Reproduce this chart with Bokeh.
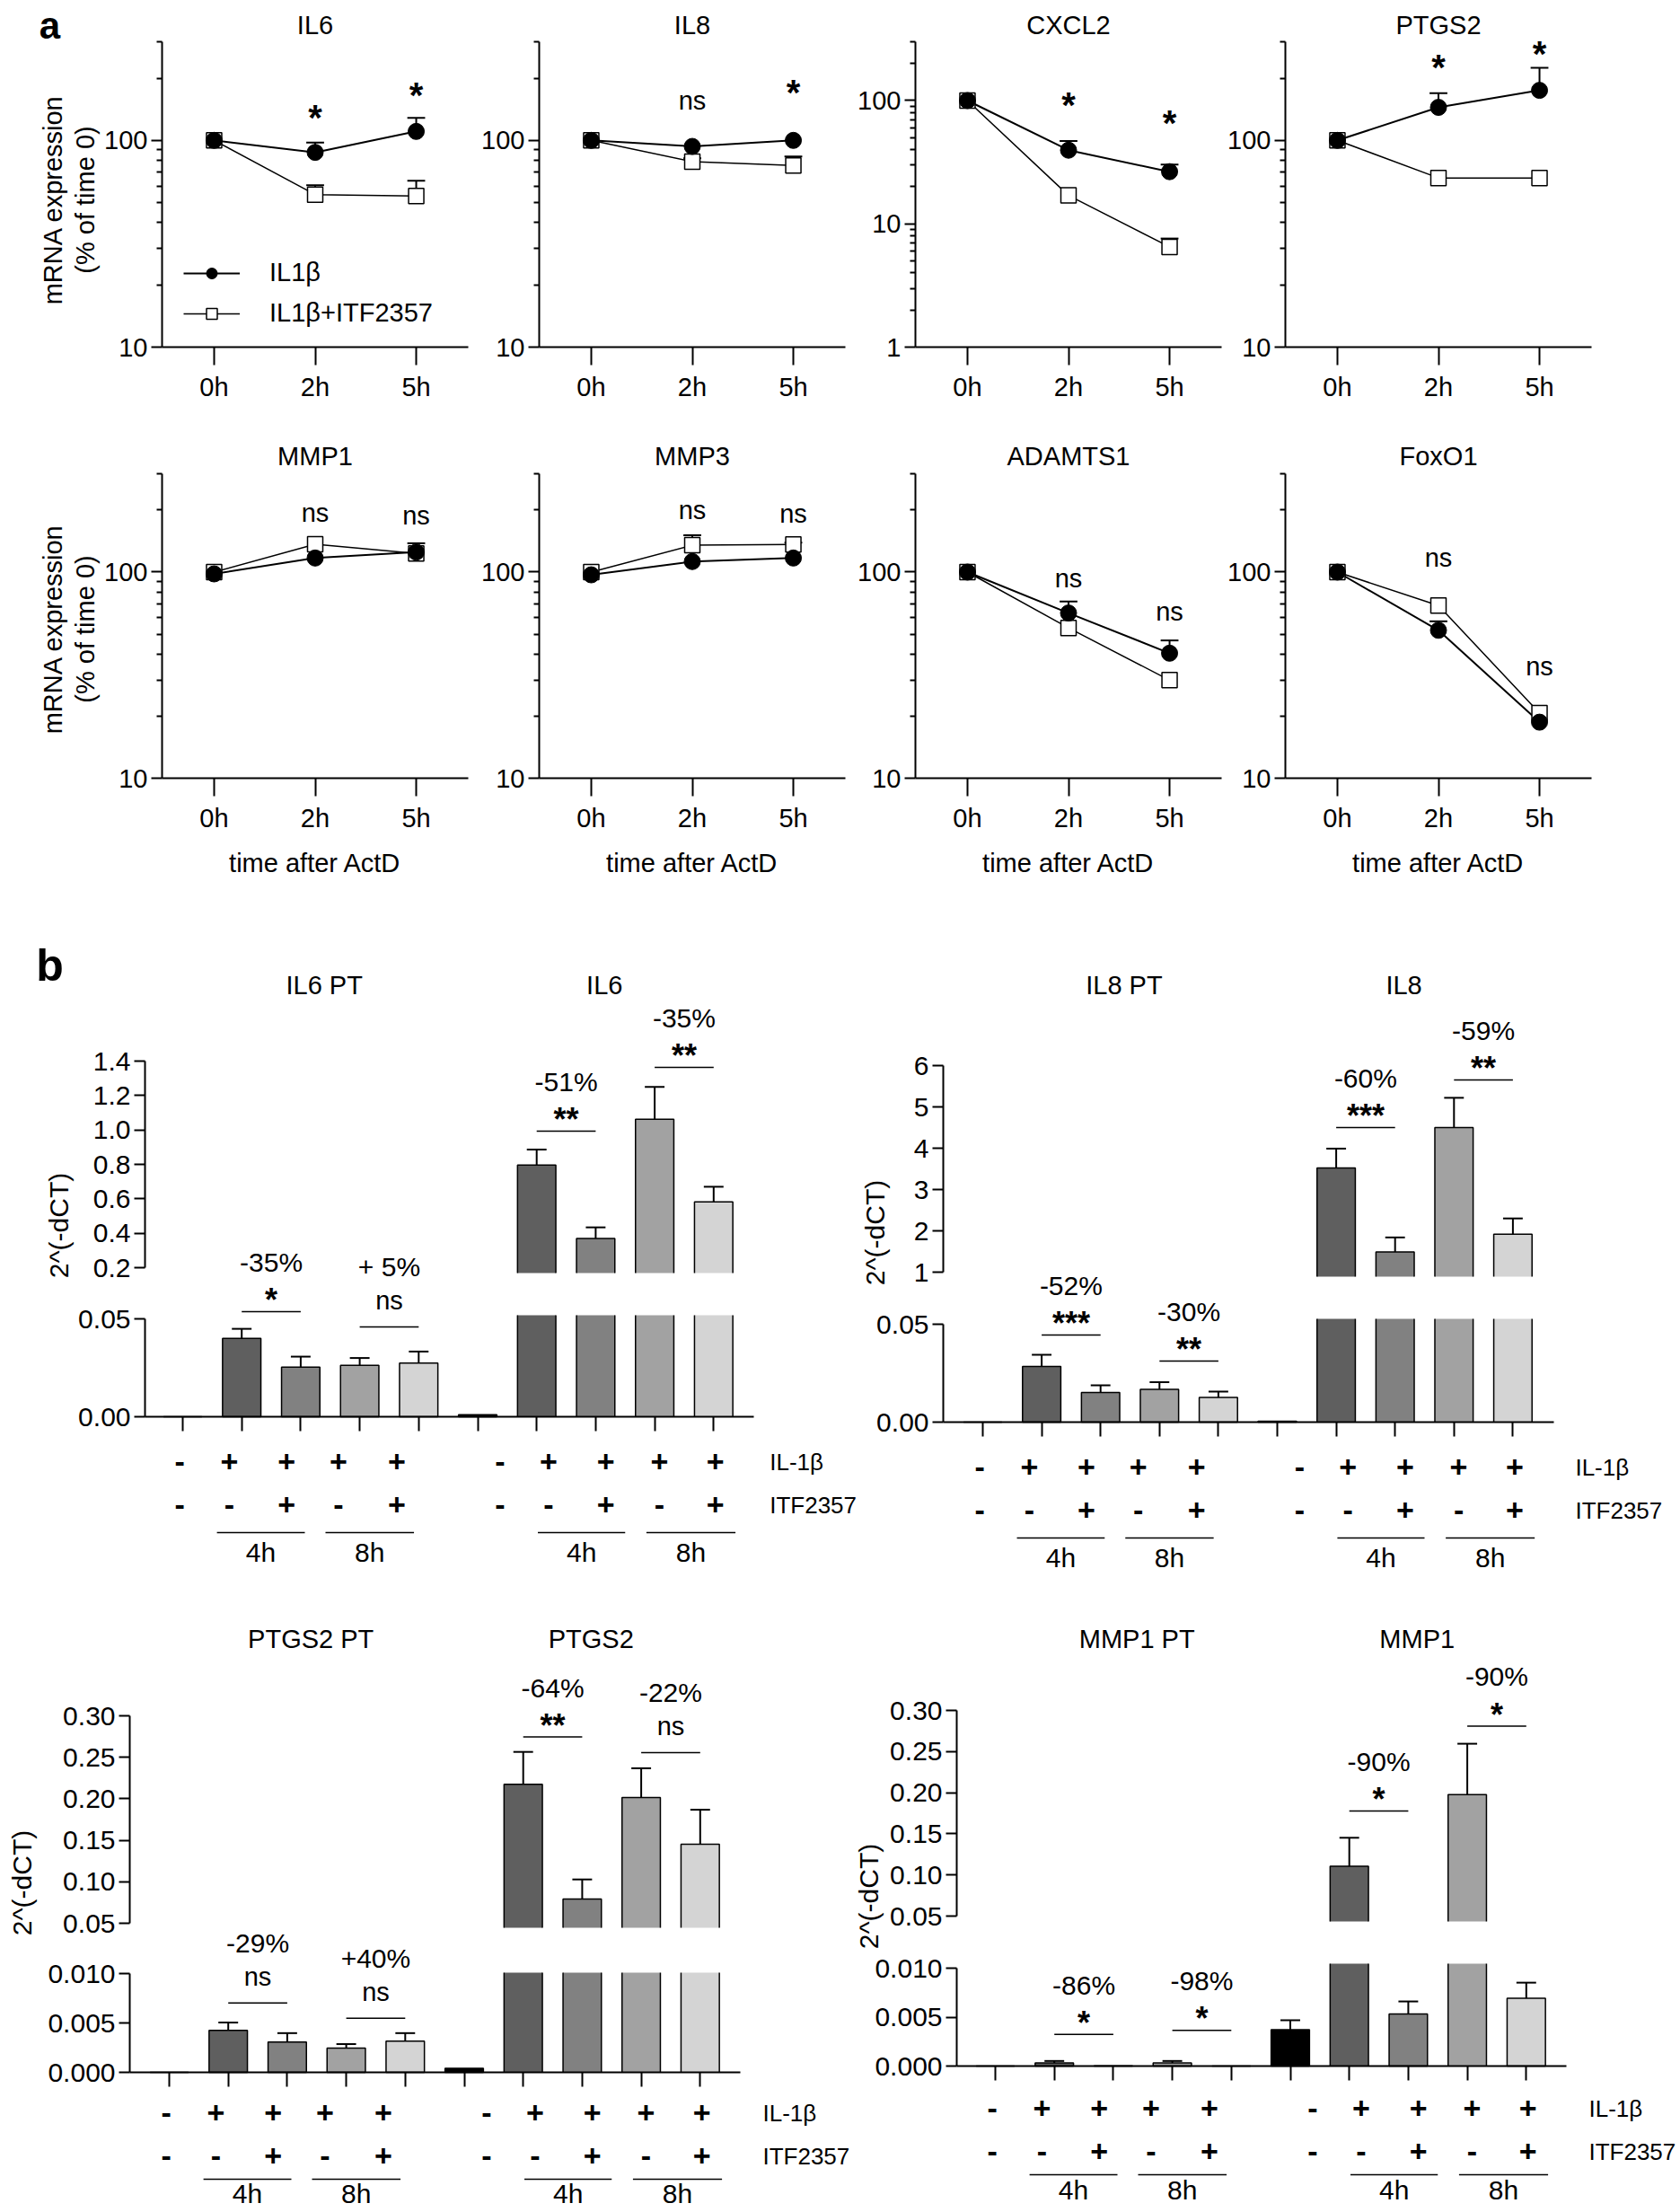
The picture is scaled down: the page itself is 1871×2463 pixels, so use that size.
import numpy as np
from bokeh.plotting import figure
from bokeh.layouts import row, column
from bokeh.models import (Range1d, FixedTicker, LinearAxis, LogAxis, LogScale, Legend, LegendItem,
                          PrintfTickFormatter, ColumnDataSource)
from bokeh.core.properties import value, field
from bokeh.embed import file_html
from bokeh.resources import INLINE

FONT = "Liberation Sans"

# ======================= Panel a data (mRNA, % of time 0) =======================
TIMES = ["0h", "2h", "5h"]

IL6_IL1B = [100, 87.5, 110.5]
IL6_IL1B_ERR = [0, 10, 18]
IL6_ITF = [100, 54.7, 53.8]
IL6_ITF_ERR = [0, 6, 10]
IL6_SIG = ["*", "*"]

IL8_IL1B = [100, 93.5, 100]
IL8_IL1B_ERR = [0, 0, 0]
IL8_ITF = [100, 79, 75.6]
IL8_ITF_ERR = [0, 3, 8]
IL8_SIG = ["ns", "*"]

CXCL2_IL1B = [100, 39.6, 26.5]
CXCL2_IL1B_ERR = [0, 7.4, 3.8]
CXCL2_ITF = [100, 17, 6.5]
CXCL2_ITF_ERR = [0, 0, 1.1]
CXCL2_SIG = ["*", "*"]

PTGS2_IL1B = [100, 144.5, 174.6]
PTGS2_IL1B_ERR = [0, 24.5, 50]
PTGS2_ITF = [100, 65.8, 65.8]
PTGS2_ITF_ERR = [0, 0, 0]
PTGS2_SIG = ["*", "*"]

MMP1_IL1B = [98, 117, 125]
MMP1_IL1B_ERR = [0, 0, 0]
MMP1_ITF = [100, 136.5, 123]
MMP1_ITF_ERR = [0, 0, 15]
MMP1_SIG = ["ns", "ns"]

MMP3_IL1B = [97, 112.5, 117]
MMP3_IL1B_ERR = [0, 0, 0]
MMP3_ITF = [100, 135, 136]
MMP3_ITF_ERR = [0, 16, 3]
MMP3_SIG = ["ns", "ns"]

ADAMTS1_IL1B = [100, 63.3, 40.4]
ADAMTS1_IL1B_ERR = [0, 8.7, 6.2]
ADAMTS1_ITF = [100, 53.6, 29.9]
ADAMTS1_ITF_ERR = [0, 0, 0]
ADAMTS1_SIG = ["ns", "ns"]

FOXO1_IL1B = [100, 52.2, 18.7]
FOXO1_IL1B_ERR = [0, 5.5, 0]
FOXO1_ITF = [100, 68.8, 20.7]
FOXO1_ITF_ERR = [0, 0, 0]
FOXO1_SIG = ["ns", "ns"]

# heights (value units) where the significance marks are centred
IL6_SIG_Y = [141, 181]
IL8_SIG_Y = [152, 186]
CXCL2_SIG_Y = [107, 76]
PTGS2_SIG_Y = [247, 287]
MMP1_SIG_Y = [190, 184]
MMP3_SIG_Y = [194, 188]
ADAMTS1_SIG_Y = [91, 62.5]
FOXO1_SIG_Y = [115, 34]

# ======================= Panel b data (2^(-dCT)) =======================
IL1B_ROW = ["-", "+", "+", "+", "+", "-", "+", "+", "+", "+"]
ITF_ROW = ["-", "-", "+", "-", "+", "-", "-", "+", "-", "+"]
ROW_NAMES = ["IL-1β", "ITF2357"]
GROUP_LABELS = ["4h", "8h", "4h", "8h"]

IL6B_MEAN = [0, 0.040, 0.0254, 0.0263, 0.0274, 0.001, 0.796, 0.37, 1.062, 0.582]
IL6B_ERR = [0, 0.0049, 0.0053, 0.0037, 0.0059, 0, 0.09, 0.064, 0.188, 0.088]
IL6B_PCT = ["-35%", "+ 5%", "-51%", "-35%"]
IL6B_SIG = ["*", "ns", "**", "**"]
IL6B_TITLES = ["IL6 PT", "IL6"]

IL8B_MEAN = [0, 0.0284, 0.0151, 0.0168, 0.0126, 0.0005, 3.52, 1.49, 4.5, 1.92]
IL8B_ERR = [0, 0.006, 0.0037, 0.0036, 0.003, 0, 0.47, 0.35, 0.72, 0.38]
IL8B_PCT = ["-52%", "-30%", "-60%", "-59%"]
IL8B_SIG = ["***", "**", "***", "**"]
IL8B_TITLES = ["IL8 PT", "IL8"]

PTGS2B_MEAN = [0, 0.00425, 0.00306, 0.00246, 0.00317, 0.0004, 0.2175, 0.0792, 0.2014, 0.1453]
PTGS2B_ERR = [0, 0.00079, 0.00091, 0.0004, 0.0008, 0, 0.039, 0.0236, 0.0354, 0.0415]
PTGS2B_PCT = ["-29%", "+40%", "-64%", "-22%"]
PTGS2B_SIG = ["ns", "ns", "**", "ns"]
PTGS2B_TITLES = ["PTGS2 PT", "PTGS2"]

MMP1B_MEAN = [0, 0.00032, 0.00003, 0.00032, 0.00001, 0.00372, 0.1105, 0.00532, 0.1976, 0.00692]
MMP1B_ERR = [0, 0.0002, 0, 0.0002, 0, 0.00096, 0.0347, 0.00128, 0.0619, 0.0016]
MMP1B_PCT = ["-86%", "-98%", "-90%", "-90%"]
MMP1B_SIG = ["*", "*", "*", "*"]
MMP1B_TITLES = ["MMP1 PT", "MMP1"]

# axis ticks
IL6B_LO_TICKS = [0, 0.05]
IL6B_UP_TICKS = [0.2, 0.4, 0.6, 0.8, 1.0, 1.2, 1.4]
IL8B_LO_TICKS = [0, 0.05]
IL8B_UP_TICKS = [1, 2, 3, 4, 5, 6]
PTGS2B_LO_TICKS = [0, 0.005, 0.010]
PTGS2B_UP_TICKS = [0.05, 0.10, 0.15, 0.20, 0.25, 0.30]
MMP1B_LO_TICKS = [0, 0.005, 0.010]
MMP1B_UP_TICKS = [0.05, 0.10, 0.15, 0.20, 0.25, 0.30]

# comparison brackets: axis segment + height (value units)
IL6B_BR_SEG = ["lo", "lo", "up", "up"]
IL6B_BR_Y = [0.0537, 0.0459, 0.993, 1.363]
IL8B_BR_SEG = ["lo", "lo", "up", "up"]
IL8B_BR_Y = [0.0445, 0.0312, 4.5, 5.65]
PTGS2B_BR_SEG = ["lo", "lo", "up", "up"]
PTGS2B_BR_Y = [0.00702, 0.00548, 0.2745, 0.2557]
MMP1B_BR_SEG = ["lo", "lo", "up", "up"]
MMP1B_BR_Y = [0.00324, 0.00364, 0.1776, 0.281]

# ======================= styling / layout constants (page pixels) =======================
FS = "29px"
A_XR = (-0.515, 2.515)
A_DX = 341 / 3.03
A_YMAX = 300
A_CAP = 0.088
A_COLS = [dict(x0=0, w=524, fl=180), dict(x0=524, w=420, fl=600),
          dict(x0=944, w=418, fl=1019), dict(x0=1362, w=506, fl=1431)]
A_ROWS = [dict(y0=0, h=480, top=46, bot=386, title_y=27, ylab_y=222, xlab_y=None),
          dict(y0=480, h=520, top=527, bot=866, title_y=507, ylab_y=700, xlab_y=960)]
A_YLAB_X = [58, 94]
A_LEGEND_LOC = (204, 115)
STAR_A = 40
STAR_B = 36

BW = 0.65
B_CAP = 0.167
BAR_COLORS = ["#000000", "#5f5f5f", "#818181", "#a2a2a2", "#d4d4d4"] * 2
PAIRS = [(1, 2), (3, 4), (6, 7), (8, 9)]
LABEL_SHIFT = [-0.05, -0.21, -0.24, -0.36, -0.37, 0.38, 0.2, 0.17, 0.08, 0.03]
GROUP_X0 = [0.58, 2.42, 6.02, 7.86]
GROUP_X1 = [2.07, 3.92, 7.5, 9.37]
TITLE_X = [2.4, 7.15]

GEO_IL6 = dict(box=(0, 1000, 958, 760), bar0=203, dx=65.7, yaxis=161, xend=839,
               lo0=1577, lo1=(0.05, 1468), up=((0.2, 1411), (1.4, 1181)),
               cut_up=1417, cut_lo=1464, title_y=1096, ylab=(65, 1364),
               letter=("b", 55, 1074), rowlab_x=9.95, rows=(50, 98, 129, 151))
GEO_IL8 = dict(box=(958, 1000, 910, 760), bar0=1094, dx=65.6, yaxis=1050, xend=1730,
               lo0=1583, lo1=(0.05, 1474), up=((1, 1416), (6, 1186)),
               cut_up=1421, cut_lo=1468, title_y=1096, ylab=(974, 1372),
               letter=None, rowlab_x=10.06, rows=(50, 98, 129, 151))
GEO_PTGS2 = dict(box=(0, 1760, 950, 700), bar0=188, dx=65.7, yaxis=144, xend=824,
                 lo0=2307, lo1=(0.010, 2197), up=((0.05, 2141), (0.30, 1910)),
                 cut_up=2146, cut_lo=2196, title_y=1824, ylab=(24, 2096),
                 letter=None, rowlab_x=10.06, rows=(45, 93, 119, 135))
GEO_MMP1 = dict(box=(950, 1760, 918, 700), bar0=1108, dx=65.7, yaxis=1065, xend=1744,
                lo0=2300, lo1=(0.010, 2191), up=((0.05, 2133), (0.30, 1904)),
                cut_up=2139, cut_lo=2186, title_y=1824, ylab=(967, 2111),
                letter=None, rowlab_x=10.06, rows=(47, 95, 121, 138))


def style_axis(ax, tick_out, fs=FS):
    ax.axis_line_width = 2
    ax.axis_line_color = "black"
    ax.major_tick_line_width = 2
    ax.major_tick_line_color = "black"
    ax.major_tick_out = tick_out
    ax.major_tick_in = 0
    ax.minor_tick_line_width = 2
    ax.minor_tick_line_color = "black"
    ax.minor_tick_out = tick_out // 2
    ax.minor_tick_in = 0
    ax.major_label_text_font = FONT
    ax.major_label_text_font_size = fs
    ax.major_label_text_color = "black"


def minor_log(ymin):
    out = []
    e = int(round(np.log10(ymin)))
    while 10 ** e < A_YMAX:
        for m in range(2, 10):
            v = m * 10 ** e
            if v <= A_YMAX:
                out.append(v)
        e += 1
    return out


def txt(p, x, y, t, size=FS, style="normal", align="center", angle=0.0, rng="default"):
    p.text(x=x, y=y, text=t, text_font=value(FONT), text_font_size=size, text_font_style=style,
           text_align=align, text_baseline="middle", text_color="black", angle=angle,
           y_range_name=rng)


def a_fig(ci, ri, title, il1b, il1b_err, itf, itf_err, sig, sig_y, ymin, legend=False, letter=None):
    c, r = A_COLS[ci], A_ROWS[ri]
    fl = c["fl"]
    dec = (r["bot"] - r["top"]) / np.log10(A_YMAX / ymin)

    def xi(px):
        return A_XR[0] + (px - fl) / A_DX

    def yv(px):
        return 10 ** (np.log10(A_YMAX) - (px - r["top"]) / dec)

    x0, w, y0, h = c["x0"], c["w"], r["y0"], r["h"]
    p = figure(width=w, height=h, min_border=0,
               x_range=Range1d(xi(x0), xi(x0 + w)), y_range=Range1d(yv(y0 + h), yv(y0)),
               x_axis_type=None, y_axis_type=None, output_backend="svg", toolbar_location=None)
    p.y_scale = LogScale()
    p.outline_line_color = None

    majors = [v for v in (1, 10, 100) if v >= ymin]
    ya = LogAxis(ticker=FixedTicker(ticks=majors, minor_ticks=minor_log(ymin)),
                 formatter=PrintfTickFormatter(format="%d"), bounds=(ymin, A_YMAX),
                 fixed_location=A_XR[0])
    style_axis(ya, 12)
    ya.major_label_standoff = 4
    xa = LinearAxis(ticker=FixedTicker(ticks=[0, 1, 2]),
                    major_label_overrides={i: lab for i, lab in enumerate(TIMES)},
                    bounds=A_XR, fixed_location=ymin)
    style_axis(xa, 20)
    xa.major_label_standoff = 8
    p.add_layout(ya, "left")
    p.add_layout(xa, "below")

    xs = np.arange(3)
    l2 = p.line(xs, itf, line_color="black", line_width=1.5)
    l1 = p.line(xs, il1b, line_color="black", line_width=2)
    for vals, errs in ((il1b, il1b_err), (itf, itf_err)):
        v = np.array(vals, float)
        e = np.array(errs, float)
        m = e > 0
        if m.any():
            top = v[m] + e[m]
            p.segment(xs[m], v[m], xs[m], top, line_color="black", line_width=2)
            p.segment(xs[m] - A_CAP, top, xs[m] + A_CAP, top, line_color="black", line_width=2)
    s2 = p.scatter(xs, itf, marker="square", size=17, fill_color="white",
                   line_color="black", line_width=1.5)
    s1 = p.scatter(xs, il1b, marker="circle", size=18, fill_color="black",
                   line_color="black", line_width=1)

    # significance marks: convert visual centre to the em-box middle
    ys, sizes, styles = [], [], []
    for s, yc in zip(sig, sig_y):
        if s.startswith("*"):
            ys.append(yc / 10 ** (0.227 * STAR_A / dec))
            sizes.append(f"{STAR_A}px")
            styles.append("bold")
        else:
            ys.append(yc * 10 ** (2.5 / dec))
            sizes.append(FS)
            styles.append("normal")
    src = ColumnDataSource(dict(x=[1, 2], y=ys, t=sig, fs=sizes, st=styles))
    p.text(x="x", y="y", text="t", source=src, text_font=value(FONT), text_font_size=field("fs"),
           text_font_style=field("st"), text_align="center", text_baseline="middle",
           text_color="black")

    # title, axis labels, panel letter
    txt(p, [1.0], [yv(r["title_y"])], [title])
    if ci == 0:
        yl = yv(r["ylab_y"])
        txt(p, [xi(A_YLAB_X[0])], [yl], ["mRNA expression"], angle=np.pi / 2)
        txt(p, [xi(A_YLAB_X[1])], [yl], ["(% of time 0)"], angle=np.pi / 2)
    if r["xlab_y"] is not None:
        txt(p, [1.0], [yv(r["xlab_y"])], ["time after ActD"])
    if letter:
        lt, lpx, lpy = letter
        txt(p, [xi(lpx)], [yv(lpy)], [lt], size="42px", style="bold")

    if legend:
        lg = Legend(items=[LegendItem(label="IL1β", renderers=[l1, s1]),
                           LegendItem(label="IL1β+ITF2357", renderers=[l2, s2])],
                    location=A_LEGEND_LOC, orientation="vertical", border_line_color=None,
                    background_fill_alpha=0, padding=0, margin=0, spacing=12,
                    glyph_width=63, glyph_height=30, label_height=30, label_standoff=33,
                    label_text_font=FONT, label_text_font_size=FS, label_text_color="black")
        p.add_layout(lg)
    return p


def b_fig(geo, titles, mean, err, pct, sig, br_seg, br_y, lo_ticks, lo_fmt, up_ticks, up_fmt):
    X0, Y0, W, H = geo["box"]
    b0, dx = geo["bar0"], geo["dx"]

    def xi(px):
        return (px - b0) / dx

    lo0 = geo["lo0"]
    lv, lv_px = geo["lo1"]
    k_lo = lv / (lo0 - lv_px)

    def lo(px):
        return (lo0 - px) * k_lo

    (ua, ua_px), (ub, ub_px) = geo["up"]
    k_up = (ub - ua) / (ua_px - ub_px)

    def up(px):
        return ua + (ua_px - px) * k_up

    p = figure(width=W, height=H, min_border=0,
               x_range=Range1d(xi(X0), xi(X0 + W)), y_range=Range1d(lo(Y0 + H), lo(Y0)),
               x_axis_type=None, y_axis_type=None, output_backend="svg", toolbar_location=None)
    p.extra_y_ranges = {"up": Range1d(up(Y0 + H), up(Y0))}
    p.outline_line_color = None

    idx = np.arange(10, dtype=float)
    v = np.array(mean, float)
    e = np.array(err, float)
    cut_lo = lo(geo["cut_lo"])
    cut_up = up(geo["cut_up"])
    colors = np.array(BAR_COLORS)
    whole = v <= cut_lo
    brk = ~whole

    # lower segment of the broken axis
    p.vbar(x=idx, bottom=0, top=np.minimum(v, cut_lo), width=BW,
           fill_color=list(colors), line_color=None)
    p.vbar(x=idx[whole], bottom=0, top=v[whole], width=BW, fill_color=None,
           line_color="black", line_width=1.5)
    if brk.any():
        xe = np.r_[idx[brk] - BW / 2, idx[brk] + BW / 2]
        p.segment(x0=xe, y0=0, x1=xe, y1=cut_lo, line_color="black", line_width=1.5)
        # upper segment
        p.vbar(x=idx[brk], bottom=cut_up, top=v[brk], width=BW, fill_color=list(colors[brk]),
               line_color=None, y_range_name="up")
        xs = [[i - BW / 2, i - BW / 2, i + BW / 2, i + BW / 2] for i in idx[brk]]
        ys = [[cut_up, tv, tv, cut_up] for tv in v[brk]]
        p.multi_line(xs=xs, ys=ys, line_color="black", line_width=1.5, y_range_name="up")

    # error bars (upper side only)
    for mask, rng in ((whole, "default"), (brk, "up")):
        m = mask & (e > 0)
        if m.any():
            top = v[m] + e[m]
            p.segment(idx[m], v[m], idx[m], top, line_color="black", line_width=2, y_range_name=rng)
            p.segment(idx[m] - B_CAP, top, idx[m] + B_CAP, top, line_color="black",
                      line_width=2, y_range_name=rng)

    # comparison brackets with significance and % change
    for (i0, i1), seg, ly, ptxt, stxt in zip(PAIRS, br_seg, br_y, pct, sig):
        k = k_lo if seg == "lo" else k_up
        rng = "default" if seg == "lo" else "up"
        p.segment(i0, ly, i1, ly, line_color="black", line_width=1.5, y_range_name=rng)
        xm = [(i0 + i1) / 2]
        if stxt == "ns":
            txt(p, xm, [ly + (27 + 0.087 * 29) * k], [stxt], rng=rng)
            txt(p, xm, [ly + 67 * k], [ptxt], size="30px", rng=rng)
        else:
            txt(p, xm, [ly + (21 - 0.227 * STAR_B) * k], [stxt], size=f"{STAR_B}px",
                style="bold", rng=rng)
            txt(p, xm, [ly + 55 * k], [ptxt], size="30px", rng=rng)

    # titles, y label, panel letter
    ty = lo(geo["title_y"])
    txt(p, TITLE_X, [ty, ty], titles)
    ylx, yly = geo["ylab"]
    txt(p, [xi(ylx)], [lo(yly)], ["2^(-dCT)"], size="30px", angle=np.pi / 2)
    if geo["letter"]:
        lt, lpx, lpy = geo["letter"]
        txt(p, [xi(lpx)], [lo(lpy)], [lt], size="50px", style="bold")

    # treatment rows
    r_plus, r_minus, r_line, r_lab = geo["rows"]
    y_plus, y_minus = lo(lo0 + r_plus), lo(lo0 + r_minus)
    y_gl, y_gt = lo(lo0 + r_line), lo(lo0 + r_lab)
    lx = idx + np.array(LABEL_SHIFT)
    txt(p, lx, [y_plus] * 10, IL1B_ROW, size="34px", style="bold")
    txt(p, lx, [y_minus] * 10, ITF_ROW, size="34px", style="bold")
    txt(p, [geo["rowlab_x"]] * 2, [y_plus, y_minus], ROW_NAMES, size="26px", align="left")
    p.segment(x0=GROUP_X0, y0=y_gl, x1=GROUP_X1, y1=y_gl, line_color="black", line_width=1.5)
    gx = [(a + b) / 2 for a, b in zip(GROUP_X0, GROUP_X1)]
    txt(p, gx, [y_gt] * 4, GROUP_LABELS, size="30px")

    # axes (drawn at fixed positions inside the frame)
    yx = xi(geo["yaxis"])
    ax_lo = LinearAxis(ticker=FixedTicker(ticks=lo_ticks), formatter=PrintfTickFormatter(format=lo_fmt),
                       bounds=(lo_ticks[0], lo_ticks[-1]), fixed_location=yx)
    ax_up = LinearAxis(y_range_name="up", ticker=FixedTicker(ticks=up_ticks),
                       formatter=PrintfTickFormatter(format=up_fmt),
                       bounds=(up_ticks[0], up_ticks[-1]), fixed_location=yx)
    ax_x = LinearAxis(ticker=FixedTicker(ticks=list(range(10))), bounds=(yx, xi(geo["xend"])),
                      fixed_location=0, major_label_overrides={i: "" for i in range(10)})
    style_axis(ax_lo, 12, "30px")
    style_axis(ax_up, 12, "30px")
    style_axis(ax_x, 16)
    ax_lo.major_label_standoff = 4
    ax_up.major_label_standoff = 4
    p.add_layout(ax_lo, "left")
    p.add_layout(ax_up, "left")
    p.add_layout(ax_x, "below")
    return p


row1 = [
    a_fig(0, 0, "IL6", IL6_IL1B, IL6_IL1B_ERR, IL6_ITF, IL6_ITF_ERR, IL6_SIG, IL6_SIG_Y, 10,
          legend=True, letter=("a", 55, 28)),
    a_fig(1, 0, "IL8", IL8_IL1B, IL8_IL1B_ERR, IL8_ITF, IL8_ITF_ERR, IL8_SIG, IL8_SIG_Y, 10),
    a_fig(2, 0, "CXCL2", CXCL2_IL1B, CXCL2_IL1B_ERR, CXCL2_ITF, CXCL2_ITF_ERR, CXCL2_SIG,
          CXCL2_SIG_Y, 1),
    a_fig(3, 0, "PTGS2", PTGS2_IL1B, PTGS2_IL1B_ERR, PTGS2_ITF, PTGS2_ITF_ERR, PTGS2_SIG,
          PTGS2_SIG_Y, 10),
]
row2 = [
    a_fig(0, 1, "MMP1", MMP1_IL1B, MMP1_IL1B_ERR, MMP1_ITF, MMP1_ITF_ERR, MMP1_SIG, MMP1_SIG_Y, 10),
    a_fig(1, 1, "MMP3", MMP3_IL1B, MMP3_IL1B_ERR, MMP3_ITF, MMP3_ITF_ERR, MMP3_SIG, MMP3_SIG_Y, 10),
    a_fig(2, 1, "ADAMTS1", ADAMTS1_IL1B, ADAMTS1_IL1B_ERR, ADAMTS1_ITF, ADAMTS1_ITF_ERR,
          ADAMTS1_SIG, ADAMTS1_SIG_Y, 10),
    a_fig(3, 1, "FoxO1", FOXO1_IL1B, FOXO1_IL1B_ERR, FOXO1_ITF, FOXO1_ITF_ERR, FOXO1_SIG,
          FOXO1_SIG_Y, 10),
]

b_il6 = b_fig(GEO_IL6, IL6B_TITLES, IL6B_MEAN, IL6B_ERR, IL6B_PCT, IL6B_SIG, IL6B_BR_SEG, IL6B_BR_Y,
              IL6B_LO_TICKS, "%.2f", IL6B_UP_TICKS, "%.1f")
b_il8 = b_fig(GEO_IL8, IL8B_TITLES, IL8B_MEAN, IL8B_ERR, IL8B_PCT, IL8B_SIG, IL8B_BR_SEG, IL8B_BR_Y,
              IL8B_LO_TICKS, "%.2f", IL8B_UP_TICKS, "%d")
b_ptgs2 = b_fig(GEO_PTGS2, PTGS2B_TITLES, PTGS2B_MEAN, PTGS2B_ERR, PTGS2B_PCT, PTGS2B_SIG,
                PTGS2B_BR_SEG, PTGS2B_BR_Y, PTGS2B_LO_TICKS, "%.3f", PTGS2B_UP_TICKS, "%.2f")
b_mmp1 = b_fig(GEO_MMP1, MMP1B_TITLES, MMP1B_MEAN, MMP1B_ERR, MMP1B_PCT, MMP1B_SIG,
               MMP1B_BR_SEG, MMP1B_BR_Y, MMP1B_LO_TICKS, "%.3f", MMP1B_UP_TICKS, "%.2f")

layout = column(row(*row1), row(*row2), row(b_il6, b_il8), row(b_ptgs2, b_mmp1))
html = file_html(layout, INLINE, title="mRNA stability and expression")
open("out.html", "w", encoding="utf-8").write(html)
